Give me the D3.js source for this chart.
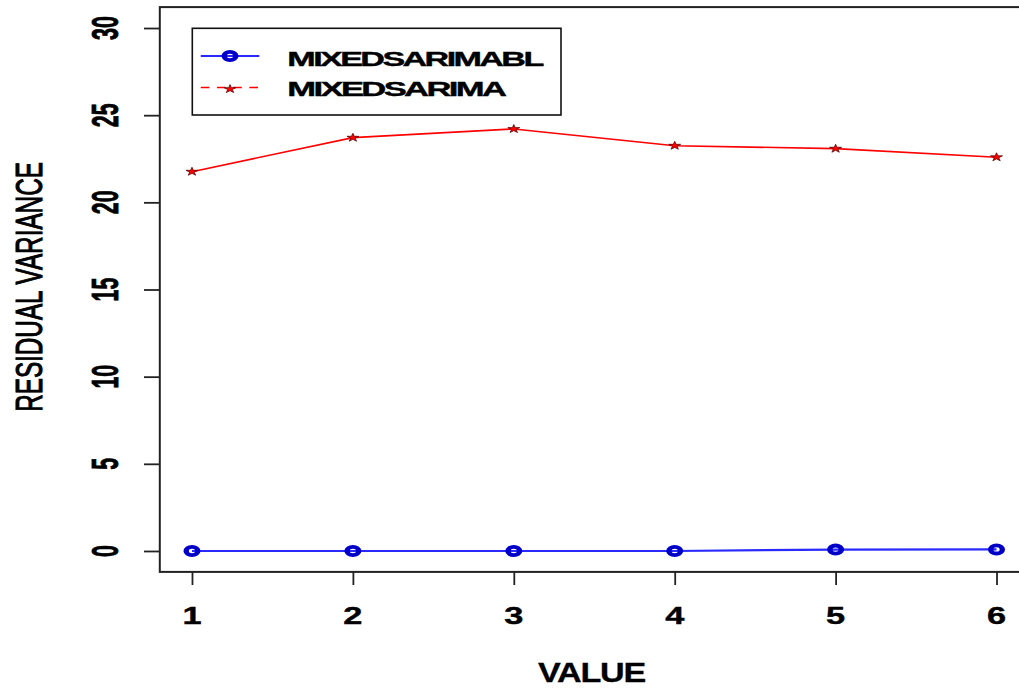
<!DOCTYPE html>
<html>
<head>
<meta charset="utf-8">
<script src="https://cdn.jsdelivr.net/npm/d3@7"></script>
<style>
  html, body { margin: 0; padding: 0; background: #fff; }
  svg { display: block; font-family: "Liberation Sans", Arial, Helvetica, sans-serif; }
</style>
</head>
<body>
<svg id="chart" width="1019" height="692"></svg>
<script>
// ---- data ----
const xValues = [1, 2, 3, 4, 5, 6];
const mixedSarimaBL = [0.0, 0.0, 0.0, 0.0, 0.08, 0.09];
const mixedSarima = [21.76, 23.71, 24.21, 23.25, 23.08, 22.59];
const seriesNames = ["MIXEDSARIMABL", "MIXEDSARIMA"];
const xTicks = [1, 2, 3, 4, 5, 6];
const yTicks = [0, 5, 10, 15, 20, 25, 30];
const xTitle = "VALUE";
const yTitle = "RESIDUAL VARIANCE";

// ---- layout ----
const svg = d3.select("#chart");
const SX = 1.42;               // wide pixel aspect of the output device
// plot region uses the data range padded by 4% on each side
const x = d3.scaleLinear().domain([0.8, 6.2]).range([159.8, 1028.7]);
const y = d3.scaleLinear().domain([-1.2, 31.2]).range([571.9, 7.1]);

// Places a text centred on (cx, cy), stretched horizontally.
// Horizontal text can be fitted to a target width.
function label(str, cx, cy, opts) {
  const g = svg.append("g");
  const t = g.append("text")
    .text(str)
    .attr("text-anchor", "middle")
    .attr("dy", "0.36em")
    .attr("font-size", opts.size)
    .attr("font-weight", opts.bold ? "bold" : "normal")
    .attr("letter-spacing", opts.spacing || 0)
    .attr("fill", "#000")
    .attr("stroke", opts.heavy ? "#000" : "none")
    .attr("stroke-width", opts.heavy || 0);
  let sx = opts.sx || SX;
  if (opts.width) sx = opts.width / t.node().getComputedTextLength();
  if (opts.rotate) {
    g.attr("transform", `translate(${cx},${cy}) scale(${sx},1) rotate(-90)`);
  } else {
    g.attr("transform", `translate(${cx},${cy}) scale(${sx},1)`);
  }
  return g;
}

// ---- axes ----
const yAxis = d3.axisLeft(y).tickValues(yTicks).tickSize(16).tickFormat("");
const gy = svg.append("g").attr("transform", "translate(160,0)").call(yAxis);
gy.select(".domain").remove();
gy.selectAll(".tick line").attr("stroke", "#222").attr("stroke-width", 1.8);

const xAxis = d3.axisBottom(x).tickValues(xTicks).tickSize(13).tickFormat("");
const gx = svg.append("g").attr("transform", "translate(0,572)").call(xAxis);
gx.select(".domain").remove();
gx.selectAll(".tick line").attr("stroke", "#222").attr("stroke-width", 1.8);

// tick labels
yTicks.forEach(v => label(String(v), 104.5, y(v), { size: 21.5, bold: true, rotate: true, sx: 1.75, heavy: 0.5 }));
xTicks.forEach(v => label(String(v), x(v), 615, { size: 24, bold: true, sx: 1.43, heavy: 0.4 }));

// axis titles
label(xTitle, 591.5, 672.5, { size: 27, bold: true, width: 107, spacing: -1, heavy: 0.3 });
label(yTitle, 28.5, 287, { size: 24.3, bold: false, rotate: true, sx: 1.55, heavy: 0.7 });

// ---- plot box ----
svg.append("rect")
  .attr("x", x(0.8)).attr("y", y(31.2))
  .attr("width", x(6.2) - x(0.8)).attr("height", y(-1.2) - y(31.2))
  .attr("fill", "none").attr("stroke", "#222").attr("stroke-width", 2);

// ---- series ----
const line = d3.line().x(d => x(d[0])).y(d => y(d[1]));
const blueData = xValues.map((v, i) => [v, mixedSarimaBL[i]]);
const redData = xValues.map((v, i) => [v, mixedSarima[i]]);

svg.append("path").datum(redData).attr("d", line)
  .attr("fill", "none").attr("stroke", "#ff0000").attr("stroke-width", 1.6);
svg.append("path").datum(blueData).attr("d", line)
  .attr("fill", "none").attr("stroke", "#2a2aff").attr("stroke-width", 2.2);

const star = d3.symbol().type(d3.symbolStar).size(22);
function drawStar(cx, cy) {
  svg.append("path").attr("d", star())
    .attr("transform", `translate(${cx},${cy}) scale(${SX},1)`)
    .attr("fill", "#ff0000").attr("stroke", "#500000").attr("stroke-width", 0.6);
}
function drawRing(cx, cy) {
  svg.append("circle").attr("r", 4.1)
    .attr("transform", `translate(${cx},${cy}) scale(${SX},1)`)
    .attr("fill", "none").attr("stroke", "#0000c8").attr("stroke-width", 3.8);
}
redData.forEach(d => drawStar(x(d[0]), y(d[1])));
blueData.forEach(d => drawRing(x(d[0]), y(d[1])));

// ---- legend ----
const legend = svg.append("g");
legend.append("rect")
  .attr("x", 192.3).attr("y", 28.3).attr("width", 368.7).attr("height", 86.7)
  .attr("fill", "#fff").attr("stroke", "#111").attr("stroke-width", 1.6);

legend.append("line").attr("x1", 200.7).attr("x2", 259.3).attr("y1", 56).attr("y2", 56)
  .attr("stroke", "#2a2aff").attr("stroke-width", 2);
drawRing(230, 56);
label(seriesNames[0], 287.3 + 254.4 / 2, 58.5, { size: 21, bold: true, width: 254.4, spacing: -1.6, heavy: 0.4 });

legend.append("line").attr("x1", 200.7).attr("x2", 259.3).attr("y1", 87.5).attr("y2", 87.5)
  .attr("stroke", "#ff0000").attr("stroke-width", 1.6).attr("stroke-dasharray", "8.7,7.5");
drawStar(230, 89);
label(seriesNames[1], 287.3 + 217 / 2, 88, { size: 21, bold: true, width: 217, spacing: -1.6, heavy: 0.4 });
</script>
</body>
</html>
